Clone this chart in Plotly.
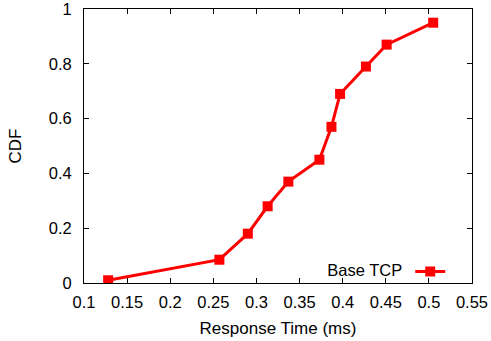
import plotly.graph_objects as go

response_time = [0.128, 0.257, 0.290, 0.313, 0.337, 0.373, 0.387, 0.397, 0.427, 0.451, 0.505]
cdf = [0.01, 0.085, 0.18, 0.28, 0.37, 0.45, 0.57, 0.69, 0.79, 0.87, 0.95]
series_name = "Base TCP"
x_ticks = [0.1, 0.15, 0.2, 0.25, 0.3, 0.35, 0.4, 0.45, 0.5, 0.55]
x_tick_labels = ["0.1", "0.15", "0.2", "0.25", "0.3", "0.35", "0.4", "0.45", "0.5", "0.55"]
y_ticks = [0, 0.2, 0.4, 0.6, 0.8, 1]
y_tick_labels = ["0", "0.2", "0.4", "0.6", "0.8", "1"]

font = "Liberation Sans, Arial, sans-serif"
fs = 16.5
fs_title = 17

fig = go.Figure()
fig.add_trace(go.Scatter(
    x=response_time, y=cdf, mode="lines+markers", name="",
    line=dict(color="#ff0000", width=3),
    marker=dict(symbol="square", size=10, color="#ff0000"),
    showlegend=True,
))

axis_common = dict(
    showline=True, linecolor="black", linewidth=1, mirror="ticks",
    ticks="inside", ticklen=5, tickcolor="black", showgrid=False, zeroline=False,
    tickfont=dict(family=font, size=fs, color="black"), automargin=False,
    ticklabeloverflow="allow",
)

fig.update_layout(
    width=491, height=341,
    margin=dict(l=84, r=19, t=9, b=58),
    paper_bgcolor="white", plot_bgcolor="white",
    font=dict(family=font, size=fs, color="black"),
    xaxis=dict(range=[0.1, 0.55], tickvals=x_ticks, ticktext=x_tick_labels,
               title=dict(text="Response Time (ms)", font=dict(family=font, size=fs_title), standoff=12),
               ticklabelstandoff=4, **axis_common),
    yaxis=dict(range=[0, 1], tickvals=y_ticks, ticktext=y_tick_labels,
               title=dict(text="CDF", font=dict(family=font, size=fs_title), standoff=22),
               ticklabelstandoff=8, **axis_common),
    legend=dict(
        title=dict(text=series_name, side="left", font=dict(family=font, size=fs)),
        orientation="h", x=0.957, xanchor="right", y=0.041, yanchor="middle",
        bgcolor="rgba(0,0,0,0)", itemwidth=30,
        font=dict(family=font, size=fs),
    ),
)

fig.write_html("out.html", config={"displayModeBar": False},
               post_script="document.body.style.margin='0px';")
